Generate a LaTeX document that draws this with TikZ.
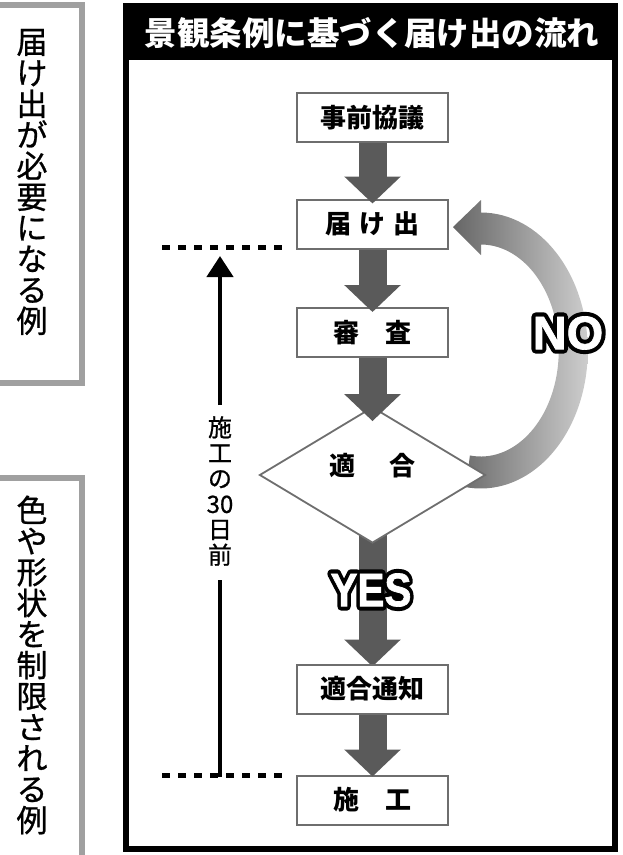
\documentclass[tikz,border=0pt]{standalone}
\usepackage{fontspec}
\setmainfont{Noto Sans CJK JP}
\newfontfamily\sidefont{Noto Sans CJK JP}[FakeBold=0.8]
\newfontfamily\heavyfont{Liberation Sans}[BoldFeatures={FakeBold=1.5}]
\newfontfamily\outlinefont{Liberation Sans}[BoldFeatures={FakeBold=19}]
\usetikzlibrary{arrows.meta,calc,shapes.geometric}
\pgfdeclarelayer{back}
\pgfsetlayers{back,main}
\definecolor{arrowgray}{HTML}{5A5A5A}
\definecolor{boxgray}{HTML}{6E6E6E}
\definecolor{sidegray}{HTML}{A0A0A0}
\definecolor{nodark}{HTML}{666666}
\definecolor{nolight}{HTML}{CDCDCD}
\begin{document}
\begin{tikzpicture}[x=1pt,y=-1pt,
  flowbox/.style={draw=boxgray,line width=2pt,fill=white,minimum width=151pt,
    minimum height=49pt,inner sep=0pt,font=\fontsize{26}{26}\selectfont\bfseries},
  fatarrow/.style={draw=arrowgray,line width=28pt,
    -{Triangle[length=27pt,width=55pt]}},
  dotline/.style={line width=5pt,dash pattern=on 8pt off 8pt},
  sideframe/.style={draw=sidegray,line width=6pt},
  sidetext/.style={align=center,inner sep=0pt,font=\sidefont\fontsize{31}{31}\selectfont},
  outlback/.style={inner sep=0pt,text=black,line join=round,
    font=\outlinefont\bfseries\fontsize{47}{47}\selectfont},
  outlfront/.style={inner sep=0pt,text=white,
    font=\heavyfont\bfseries\fontsize{47}{47}\selectfont},
]
\useasboundingbox (0,0) rectangle (623,855);
\clip (0,0) rectangle (623,855);

% side frames
\draw[sideframe] (-20,5) rectangle (82,383);
\draw[sideframe] (-20,478) rectangle (82,900);
\node[sidetext] (side1) at (32,182) {届\\け\\出\\が\\必\\要\\に\\な\\る\\例};
\node[sidetext] (side2) at (32,665) {色\\や\\形\\状\\を\\制\\限\\さ\\れ\\る\\例};

% main frame and title
\fill[black] (123,3) rectangle (618,60);
\draw[line width=6pt] (126,6) rectangle (615,849);
\node[text=white,inner sep=0pt,font=\fontsize{32.5}{32.5}\selectfont\bfseries] (title) at (372,33) {景観条例に基づく届け出の流れ};

% flow nodes
\node[flowbox] (kyogi) at (372.5,117.5) {事前協議};
\node[flowbox] (todoke) at (372.5,224) {届\hspace{0.3em}け\hspace{0.3em}出};
\node[flowbox] (shinsa) at (372.5,332.5) {審\hspace{1em}査};
\coordinate (tekigoc) at (372.5,475);
\node[flowbox] (tsuchi) at (372.5,689) {適合通知};
\node[flowbox] (seko) at (372.5,800) {施\hspace{1em}工};

% back layer: NO arc and YES arrow
\begin{pgfonlayer}{back}
  \coordinate (nocen) at ($(todoke.east)!0.5!(tekigoc)+(70,1)$);
  \shade[left color=nodark,right color=nolight]
    ($(nocen)+(90:107pt and 138pt)$) arc[start angle=90,end angle=-98,x radius=107pt,y radius=138pt]
    -- ($(nocen)+(-98:78pt and 106pt)$) arc[start angle=-98,end angle=90,x radius=78pt,y radius=106pt]
    -- cycle
    ($(todoke.east)+(32,-24)$) -- ($(todoke.east)+(4,3)$) -- ($(todoke.east)+(32,31)$) -- cycle;
  \draw[fatarrow,shorten >=-3pt] (tekigoc) -- (tsuchi.north);
\end{pgfonlayer}

\node[diamond,draw=boxgray,line width=1.8pt,fill=white,minimum width=226pt,
  minimum height=136pt,inner sep=0pt] (tekigo) at (tekigoc) {};
\node[inner sep=0pt,font=\fontsize{26}{26}\selectfont\bfseries] (tekigolabel) at ($(tekigo)+(0,-9)$) {適\hspace{1.3em}合};

% fat arrows
\draw[fatarrow,shorten >=-5pt] (kyogi.south) -- (todoke.north);
\draw[fatarrow,shorten >=-5pt] (todoke.south) -- (shinsa.north);
\draw[fatarrow,shorten >=-15pt] (shinsa.south) -- (tekigo.north);
\draw[fatarrow,shorten >=-2pt] (tsuchi.south) -- (seko.north);

% labels YES / NO
\node[outlback] (noback) at (568,333) {NO};
\node[outlfront] (nolabel) at (568,333) {NO};
\node[outlback] (yesback) at (371,590) {\scalebox{0.86}[1]{YES}};
\node[outlfront] (yeslabel) at (371,590) {\scalebox{0.86}[1]{YES}};

% 30 days indicator
\coordinate (d1a) at (162,247);
\coordinate (d1b) at (282,247);
\coordinate (d2a) at (162,775);
\coordinate (d2b) at (282,775);
\draw[dotline] (d1a) -- (d1b);
\draw[dotline] (d2a) -- (d2b);
\node[align=center,inner sep=0pt,font=\sidefont\fontsize{24}{25.5}\selectfont] (kikan) at (220,491) {施\\工\\の\\30\\日\\前};
\coordinate (vbot) at (220,777);
\coordinate (vlow) at (220,580);
\coordinate (vhigh) at (220,405);
\coordinate (vtop) at (220,256);
\draw[line width=4.5pt] (vbot) -- (vlow);
\draw[line width=4.5pt,-{Triangle[length=21pt,width=26pt]}] (vhigh) -- (vtop);
\end{tikzpicture}
\end{document}
